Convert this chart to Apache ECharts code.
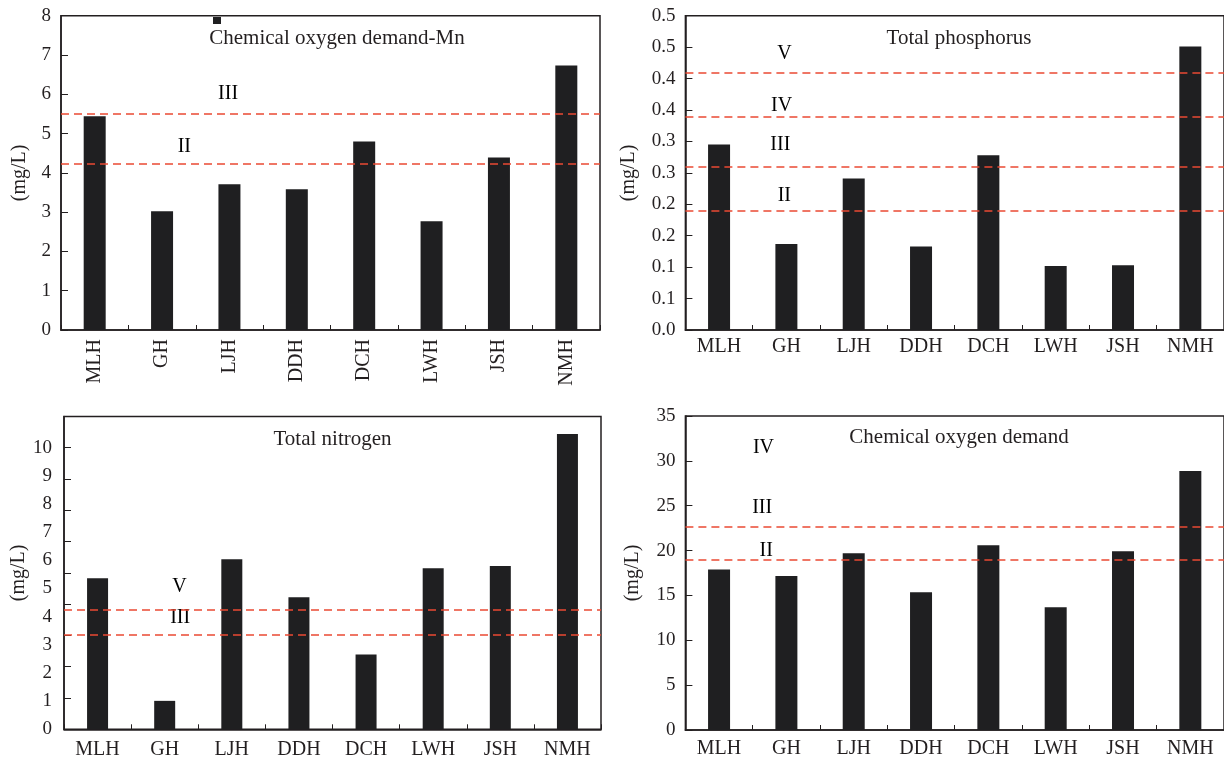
<!DOCTYPE html>
<html>
<head>
<meta charset="utf-8">
<script src="https://cdn.jsdelivr.net/npm/echarts@6/dist/echarts.min.js"></script>
<style>
html,body{margin:0;padding:0;background:#fff;}
#chart{width:1224px;height:763px;}
</style>
</head>
<body>
<div id="chart"></div>
<script>
// ---------- data ----------
const categories = ['MLH', 'GH', 'LJH', 'DDH', 'DCH', 'LWH', 'JSH', 'NMH'];

const codMnValues = [5.44, 3.02, 3.71, 3.58, 4.80, 2.77, 4.39, 6.73];
const tpValues    = [0.295, 0.137, 0.241, 0.133, 0.278, 0.102, 0.103, 0.451];
const tnValues    = [5.36, 1.01, 6.04, 4.69, 2.66, 5.72, 5.80, 10.49];
const codValues   = [17.9, 17.17, 19.7, 15.35, 20.59, 13.68, 19.92, 28.87];

// standard (class) limit lines
const codMnStd = [5.50, 4.23];
const tpStd    = [0.405, 0.335, 0.261, 0.1915];
const tnStd    = [4.24, 3.37];
const codStd   = [22.67, 19.03];

// class annotations: names, x (category index units), y (data units)
const codMnNotes = { names: ['III', 'II'], x: [1.98, 1.33], y: [6.01, 4.66] };
const tpNotes    = { names: ['V', 'IV', 'III', 'II'], x: [0.97, 0.93, 0.91, 0.97], y: [0.440, 0.357, 0.295, 0.213] };
const tnNotes    = { names: ['V', 'III'], x: [1.22, 1.23], y: [5.05, 3.95] };
const codNotes   = { names: ['IV', 'III', 'II'], x: [0.66, 0.64, 0.70], y: [31.5, 24.8, 20.0] };

// tick labels
const codMnTicks = ['0', '1', '2', '3', '4', '5', '6', '7', '8'];
const tpTicks    = ['0.0', '0.1', '0.1', '0.2', '0.2', '0.3', '0.3', '0.4', '0.4', '0.5', '0.5'];
const tnTicks    = ['0', '1', '2', '3', '4', '5', '6', '7', '8', '9', '10'];
const codTicks   = ['0', '5', '10', '15', '20', '25', '30', '35'];

const titles = ['Chemical oxygen demand-Mn', 'Total phosphorus', 'Total nitrogen', 'Chemical oxygen demand'];
const unitName = '(mg/L)';

// ---------- style ----------
const FONT = 'Liberation Serif';
const INK = '#231f20';
const BAR = '#1f1f21';
const RED = '#ea4a33';

const grids = [
  { left: 61,    top: 15.7,  right: 624,  bottom: 433 },
  { left: 685.4, top: 15.7,  right: -9.3, bottom: 433 },
  { left: 64,    top: 416.4, right: 623,  bottom: 33.7 },
  { left: 685.4, top: 416,   right: -9.3, bottom: 33 }
].map(g => Object.assign({ show: true, borderColor: INK, borderWidth: 1.5, backgroundColor: 'transparent' }, g));

const xLabelCfg = [
  { rotate: 90, margin: 9 },
  { rotate: 0, margin: 7 },
  { rotate: 0, margin: 10 },
  { rotate: 0, margin: 8.5 }
];

const xAxes = [];
for (let i = 0; i < 4; i++) {
  xAxes.push({
    type: 'category', gridIndex: i, data: categories, position: 'bottom',
    axisLine: { show: true, onZero: false, lineStyle: { color: INK, width: 1.5 } },
    axisTick: { show: true, inside: true, length: 5, alignWithLabel: false, lineStyle: { color: INK, width: 1 } },
    axisLabel: { color: INK, fontFamily: FONT, fontSize: 20, rotate: xLabelCfg[i].rotate, margin: xLabelCfg[i].margin, interval: 0 },
    splitLine: { show: false }
  });
}
for (let i = 0; i < 4; i++) {
  xAxes.push({ type: 'value', gridIndex: i, min: -0.5, max: 7.5, show: false, position: 'top',
    axisLine: { show: false, onZero: false } });
}

function labelFrom(ticks, step) {
  return function (v) {
    const k = Math.round(v / step);
    if (Math.abs(k * step - v) > step * 1e-6) return '';
    return ticks[k] !== undefined ? ticks[k] : '';
  };
}

function yAxis(i, max, interval, ticks, nameGap, opts) {
  opts = opts || {};
  return {
    type: 'value', gridIndex: i, min: 0, max: max, interval: interval, position: 'left',
    name: unitName, nameLocation: 'middle', nameGap: nameGap,
    nameTextStyle: { color: INK, fontFamily: FONT, fontSize: 20 },
    axisLine: { show: true, onZero: false, lineStyle: { color: INK, width: 1.5 } },
    axisTick: { show: opts.ticks !== false, inside: true, length: 7, lineStyle: { color: INK, width: 1 } },
    axisLabel: { color: INK, fontFamily: FONT, fontSize: 19, margin: opts.margin || 10, formatter: labelFrom(ticks, interval), showMaxLabel: true },
    splitLine: { show: false }
  };
}

const yAxes = [
  yAxis(0, 8, 1, codMnTicks, 31),
  yAxis(1, 0.5, 0.05, tpTicks, 47),
  // total nitrogen: labels are spaced at 0.9 of the tick spacing (as in the source figure)
  yAxis(2, 100 / 9, 1, tnTicks, 34, { ticks: false, margin: 12 }),
  yAxis(3, 35, 5, codTicks, 43),
  // tick-only axis for total nitrogen panel
  {
    type: 'value', gridIndex: 2, min: 0, max: 10, interval: 1, position: 'left', offset: 0,
    axisLine: { show: false, onZero: false },
    axisTick: { show: true, inside: true, length: 7, lineStyle: { color: INK, width: 1 } },
    axisLabel: { show: false },
    splitLine: { show: false }
  }
];

const valueSets = [codMnValues, tpValues, tnValues, codValues];
const stdSets = [codMnStd, tpStd, tnStd, codStd];
const noteSets = [codMnNotes, tpNotes, tnNotes, codNotes];
const seriesNames = ['COD-Mn', 'TP', 'TN', 'COD'];
const barWidths = [22, 22, 21, 22];

const series = [];
for (let i = 0; i < 4; i++) {
  series.push({
    name: seriesNames[i], type: 'bar', xAxisIndex: i, yAxisIndex: i,
    data: valueSets[i], barWidth: barWidths[i],
    itemStyle: { color: BAR },
    silent: true,
    markLine: {
      silent: true, symbol: ['none', 'none'], label: { show: false },
      lineStyle: { color: RED, width: 1.5, type: [8, 5], opacity: 1 },
      data: stdSets[i].map(v => ({ yAxis: v }))
    },
    z: 2
  });
  const n = noteSets[i];
  series.push({
    type: 'scatter', xAxisIndex: 4 + i, yAxisIndex: i,
    symbol: 'circle', symbolSize: 0.01, itemStyle: { color: INK, opacity: 1 }, silent: true,
    label: { show: true, position: 'inside', formatter: '{b}', color: '#000000', opacity: 1,
      textBorderWidth: 0, fontFamily: FONT, fontSize: 20 },
    data: n.names.map((nm, k) => ({ name: nm, value: [n.x[k], n.y[k]] })),
    z: 3
  });
}

const titleCenters = [[337, 38.3], [959, 38.3], [332.5, 439.3], [959, 437.7]];
const titleComps = titles.map((t, i) => ({
  text: t, left: titleCenters[i][0], top: titleCenters[i][1], padding: 0,
  textAlign: 'center', textVerticalAlign: 'middle',
  textStyle: { color: INK, fontFamily: FONT, fontSize: 21, fontWeight: 'normal' }
}));

const option = {
  animation: false,
  backgroundColor: '#ffffff',
  title: titleComps,
  legend: {
    data: ['COD-Mn'], left: 213, top: 17, padding: 0,
    icon: 'rect', itemWidth: 8, itemHeight: 7,
    formatter: function () { return ''; },
    selectedMode: false
  },
  grid: grids,
  xAxis: xAxes,
  yAxis: yAxes,
  series: series
};

const chart = echarts.init(document.getElementById('chart'), null, { renderer: 'canvas' });
chart.setOption(option);
</script>
</body>
</html>
